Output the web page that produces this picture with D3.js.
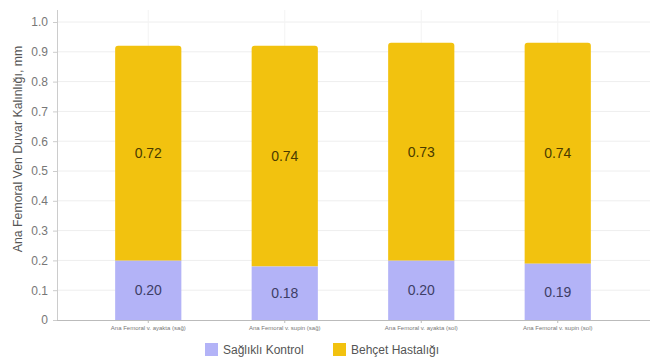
<!DOCTYPE html>
<html>
<head>
<meta charset="utf-8">
<script src="https://cdn.jsdelivr.net/npm/d3@7"></script>
<style>
  html, body { margin: 0; padding: 0; background: #fff; }
  svg { display: block; font-family: "Liberation Sans", Arial, sans-serif; }
</style>
</head>
<body>
<svg id="chart" width="657" height="360"></svg>
<script>
// Category labels (x axis)
const categories = [
  "Ana Femoral v. ayakta (sağ)",
  "Ana Femoral v. supin (sağ)",
  "Ana Femoral v. ayakta (sol)",
  "Ana Femoral v. supin (sol)"
];
// Stacked series values (mm)
const saglikliKontrol = [0.20, 0.18, 0.20, 0.19];
const behcetHastaligi = [0.72, 0.74, 0.73, 0.74];
const seriesNames = ["Sağlıklı Kontrol", "Behçet Hastalığı"];
const yTicks = [0, 0.1, 0.2, 0.3, 0.4, 0.5, 0.6, 0.7, 0.8, 0.9, 1.0];
const yTitle = "Ana Femoral Ven Duvar Kalınlığı, mm";

const colors = ["#b3b3f7", "#f2c20f"];
const labelColors = ["#3e3e66", "#4a3b00"];

const svg = d3.select("#chart");
const plotLeft = 57, plotRight = 650, plotTop = 22, plotBottom = 320;

const y = d3.scaleLinear().domain([0, 1.0]).range([plotBottom, plotTop]);
const x = d3.scaleBand().domain(categories).range([80, 626]).padding(0);
const barW = x.bandwidth() * 0.485;
const cx = d => x(d) + x.bandwidth() / 2;

// horizontal gridlines
svg.append("g")
  .selectAll("line")
  .data(yTicks.slice(1))
  .join("line")
  .attr("x1", plotLeft).attr("x2", plotRight)
  .attr("y1", d => y(d)).attr("y2", d => y(d))
  .attr("stroke", "#eeeeee").attr("stroke-width", 1);

// vertical gridlines at category centers
svg.append("g")
  .selectAll("line")
  .data(categories)
  .join("line")
  .attr("x1", d => cx(d)).attr("x2", d => cx(d))
  .attr("y1", plotTop - 12).attr("y2", plotBottom)
  .attr("stroke", "#f3f3f3").attr("stroke-width", 1);

// stacked data
const rows = categories.map((c, i) => ({
  cat: c,
  [seriesNames[0]]: saglikliKontrol[i],
  [seriesNames[1]]: behcetHastaligi[i]
}));
const stack = d3.stack().keys(seriesNames)(rows);

stack.forEach((layer, li) => {
  const g = svg.append("g");
  layer.forEach(seg => {
    const x0 = cx(seg.data.cat) - barW / 2;
    const y0 = y(seg[1]), y1 = y(seg[0]);
    if (li === stack.length - 1) {
      // top segment with slightly rounded upper corners
      const r = 3;
      const p = d3.path();
      p.moveTo(x0, y1);
      p.lineTo(x0, y0 + r);
      p.quadraticCurveTo(x0, y0, x0 + r, y0);
      p.lineTo(x0 + barW - r, y0);
      p.quadraticCurveTo(x0 + barW, y0, x0 + barW, y0 + r);
      p.lineTo(x0 + barW, y1);
      p.closePath();
      g.append("path").attr("d", p.toString()).attr("fill", colors[li]);
    } else {
      g.append("rect")
        .attr("x", x0).attr("y", y0)
        .attr("width", barW).attr("height", y1 - y0)
        .attr("fill", colors[li]);
    }
    g.append("text")
      .attr("x", cx(seg.data.cat))
      .attr("y", (y0 + y1) / 2)
      .attr("dy", "0.35em")
      .attr("text-anchor", "middle")
      .attr("font-size", 14)
      .attr("fill", labelColors[li])
      .text((seg[1] - seg[0]).toFixed(2));
  });
});

// y axis
const yAxis = svg.append("g")
  .attr("transform", `translate(${plotLeft},0)`)
  .call(d3.axisLeft(y).tickValues(yTicks)
    .tickFormat(d => d === 0 ? "0" : d3.format(".1f")(d))
    .tickSize(4).tickPadding(5));
yAxis.select(".domain").attr("d", `M0.5,${plotBottom}V${plotTop - 12}`).attr("stroke", "#cccccc");
yAxis.selectAll(".tick line").attr("stroke", "#cccccc");
yAxis.selectAll(".tick text").attr("fill", "#777").attr("font-size", 12)
  .attr("font-family", "Liberation Sans, Arial, sans-serif");

// x axis
const xAxis = svg.append("g")
  .attr("transform", `translate(0,${plotBottom})`)
  .call(d3.axisBottom(x).tickSize(3).tickPadding(3));
xAxis.select(".domain").attr("d", `M${plotLeft},0.5H${plotRight}`).attr("stroke", "#bbbbbb");
xAxis.selectAll(".tick line").attr("stroke", "#bbbbbb");
xAxis.selectAll(".tick text").attr("fill", "#777").attr("font-size", 6)
  .attr("font-family", "Liberation Sans, Arial, sans-serif");

// y axis title
svg.append("text")
  .attr("transform", `translate(22,149) rotate(-90)`)
  .attr("text-anchor", "middle")
  .attr("font-size", 12.3)
  .attr("fill", "#555")
  .text(yTitle);

// legend
const legendX = [205, 333];
seriesNames.forEach((name, i) => {
  const lg = svg.append("g").attr("transform", `translate(${legendX[i]},343)`);
  lg.append("rect").attr("width", 13).attr("height", 13).attr("fill", colors[i]);
  lg.append("text").attr("x", 18).attr("y", 7).attr("dy", "0.35em")
    .attr("font-size", 12).attr("fill", "#555").text(name);
});
</script>
</body>
</html>
